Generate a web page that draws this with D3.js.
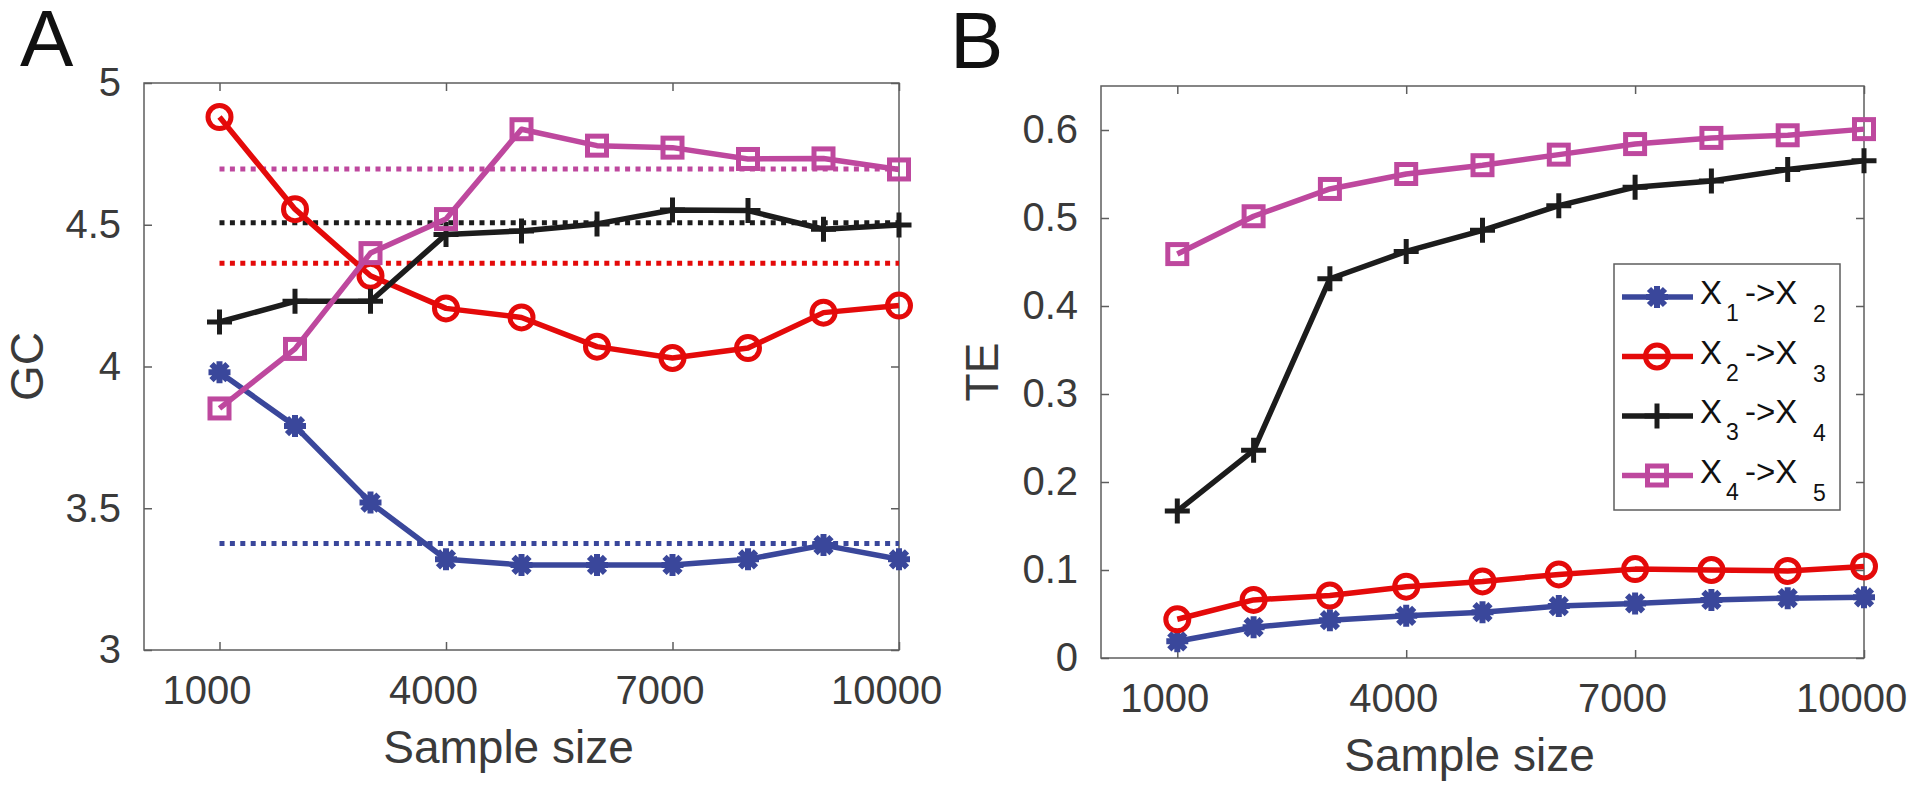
<!DOCTYPE html>
<html>
<head>
<meta charset="utf-8">
<script src="https://cdn.jsdelivr.net/npm/d3@7/dist/d3.min.js"></script>
<style>
  html, body { margin: 0; padding: 0; background: #fff; }
  svg { display: block; font-family: "Liberation Sans", Arial, Helvetica, sans-serif; }
</style>
</head>
<body>
<svg id="chart" width="1920" height="789"></svg>
<script>
// ---------- data ----------
const sampleSizes = [1000, 2000, 3000, 4000, 5000, 6000, 7000, 8000, 9000, 10000];
const xTicks = [1000, 4000, 7000, 10000];

const seriesNames = ["X1->X2", "X2->X3", "X3->X4", "X4->X5"];
const seriesSubs = [["1", "2"], ["2", "3"], ["3", "4"], ["4", "5"]];
const seriesColors = ["#3a479b", "#e40a0a", "#1c1c1c", "#be489e"];
const seriesMarkers = ["asterisk", "circle", "plus", "square"];

// Panel A: GC
const gcX1X2 = [3.98, 3.79, 3.52, 3.32, 3.30, 3.30, 3.30, 3.32, 3.37, 3.32];
const gcX2X3 = [4.88, 4.555, 4.32, 4.205, 4.173, 4.07, 4.03, 4.065, 4.19, 4.215];
const gcX3X4 = [4.157, 4.23, 4.23, 4.466, 4.478, 4.503, 4.552, 4.55, 4.484, 4.499];
const gcX4X5 = [3.852, 4.062, 4.40, 4.52, 4.837, 4.779, 4.772, 4.732, 4.734, 4.695];
const gcTrueValues = [3.376, 4.364, 4.507, 4.697];
const gcTicks = [3, 3.5, 4, 4.5, 5];

// Panel B: TE
const teX1X2 = [0.019, 0.035, 0.043, 0.048, 0.052, 0.059, 0.062, 0.066, 0.068, 0.069];
const teX2X3 = [0.044, 0.066, 0.071, 0.081, 0.087, 0.095, 0.101, 0.100, 0.099, 0.104];
const teX3X4 = [0.167, 0.236, 0.431, 0.462, 0.486, 0.514, 0.535, 0.542, 0.555, 0.565];
const teX4X5 = [0.459, 0.502, 0.533, 0.550, 0.560, 0.572, 0.584, 0.591, 0.594, 0.601];
const teTicks = [0, 0.1, 0.2, 0.3, 0.4, 0.5, 0.6];

// ---------- drawing ----------
const svg = d3.select("#chart");
const AXIS_COLOR = "#5e5e5e";
const TEXT_COLOR = "#3a3a3a";
const LINE_W = 5.5;

function markerPath(type) {
  if (type === "asterisk") {
    const s = 11, d = 8;
    return `M${-s},0L${s},0M0,${-s}L0,${s}M${-d},${-d}L${d},${d}M${-d},${d}L${d},${-d}`;
  }
  if (type === "plus") {
    const s = 12.5;
    return `M${-s},0L${s},0M0,${-s}L0,${s}`;
  }
  return null;
}

function drawMarker(g, type, color, x, y) {
  if (type === "circle") {
    g.append("circle").attr("cx", x).attr("cy", y).attr("r", 11.5)
      .attr("fill", "none").attr("stroke", color).attr("stroke-width", 5);
  } else if (type === "square") {
    g.append("rect").attr("x", x - 9.5).attr("y", y - 9.5).attr("width", 19).attr("height", 19)
      .attr("fill", "none").attr("stroke", color).attr("stroke-width", 5);
  } else {
    g.append("path").attr("transform", `translate(${x},${y})`).attr("d", markerPath(type))
      .attr("fill", "none").attr("stroke", color)
      .attr("stroke-width", type === "plus" ? 5 : 6);
  }
}

function drawPanel(cfg) {
  const { left, top, right, bottom } = cfg;
  const x = d3.scaleLinear().domain([0, 10000]).range([left, right]);
  const y = d3.scaleLinear().domain(cfg.yDomain).range([bottom, top]);
  const g = svg.append("g");

  const bottomAxis = d3.axisBottom(x).tickValues(xTicks).tickSizeInner(-8).tickSizeOuter(0)
    .tickPadding(26).tickFormat(d3.format("d"));
  const topAxis = d3.axisTop(x).tickValues(xTicks).tickSizeInner(-8).tickSizeOuter(0).tickFormat("");
  const leftAxis = d3.axisLeft(y).tickValues(cfg.yTicks).tickSizeInner(-8).tickSizeOuter(0)
    .tickPadding(23).tickFormat(d => String(d));
  const rightAxis = d3.axisRight(y).tickValues(cfg.yTicks).tickSizeInner(-8).tickSizeOuter(0).tickFormat("");

  const axes = [
    g.append("g").attr("transform", `translate(0,${bottom})`).call(bottomAxis),
    g.append("g").attr("transform", `translate(0,${top})`).call(topAxis),
    g.append("g").attr("transform", `translate(${left},0)`).call(leftAxis),
    g.append("g").attr("transform", `translate(${right},0)`).call(rightAxis)
  ];
  axes.forEach(a => {
    a.select(".domain").remove();
    a.selectAll(".tick line").attr("stroke", AXIS_COLOR).attr("stroke-width", 1.5);
    a.selectAll("text").attr("fill", TEXT_COLOR).attr("font-size", 40)
      .attr("font-family", "'Liberation Sans', Arial, sans-serif");
  });
  axes[0].selectAll("text").attr("dx", -13);

  g.append("rect").attr("x", left).attr("y", top).attr("width", right - left).attr("height", bottom - top)
    .attr("fill", "none").attr("stroke", AXIS_COLOR).attr("stroke-width", 1.5);

  g.append("text").attr("x", (left + right) / 2 - 13).attr("y", bottom + 113)
    .attr("text-anchor", "middle").attr("font-size", 46).attr("fill", TEXT_COLOR).text("Sample size");
  g.append("text").attr("transform", `translate(${cfg.ylabelX},${(top + bottom) / 2}) rotate(-90)`)
    .attr("text-anchor", "middle").attr("font-size", 46).attr("fill", TEXT_COLOR).text(cfg.ylabel);

  g.append("text").attr("x", cfg.letterX).attr("y", cfg.letterY)
    .attr("font-size", 80).attr("fill", "#111").text(cfg.letter);

  if (cfg.refs) {
    cfg.refs.forEach((v, i) => {
      g.append("line").attr("x1", x(sampleSizes[0])).attr("x2", x(sampleSizes[sampleSizes.length - 1]))
        .attr("y1", y(v)).attr("y2", y(v))
        .attr("stroke", seriesColors[i]).attr("stroke-width", 5).attr("stroke-dasharray", "5 5.4");
    });
  }

  const line = d3.line().x((d, i) => x(sampleSizes[i])).y(d => y(d));
  cfg.series.forEach((vals, si) => {
    const sg = g.append("g");
    sg.append("path").datum(vals).attr("d", line).attr("fill", "none")
      .attr("stroke", seriesColors[si]).attr("stroke-width", LINE_W).attr("stroke-linejoin", "round");
    vals.forEach((v, i) => drawMarker(sg, seriesMarkers[si], seriesColors[si], x(sampleSizes[i]), y(v)));
  });
  return { x, y };
}

drawPanel({
  left: 144, top: 83, right: 899, bottom: 650,
  yDomain: [3, 5], yTicks: gcTicks,
  series: [gcX1X2, gcX2X3, gcX3X4, gcX4X5],
  refs: gcTrueValues,
  ylabel: "GC", ylabelX: 43,
  letter: "A", letterX: 20, letterY: 66
});

drawPanel({
  left: 1101, top: 86, right: 1864, bottom: 658,
  yDomain: [0, 0.65], yTicks: teTicks,
  series: [teX1X2, teX2X3, teX3X4, teX4X5],
  refs: null,
  ylabel: "TE", ylabelX: 998,
  letter: "B", letterX: 950, letterY: 68
});

// legend
const lg = svg.append("g");
const legLeft = 1614, legTop = 264, legW = 226, legH = 246;
lg.append("rect").attr("x", legLeft).attr("y", legTop).attr("width", legW).attr("height", legH)
  .attr("fill", "#fff").attr("stroke", AXIS_COLOR).attr("stroke-width", 1.5);
seriesNames.forEach((name, i) => {
  const cy = legTop + 33 + i * 59.5;
  lg.append("line").attr("x1", legLeft + 8).attr("x2", legLeft + 79).attr("y1", cy).attr("y2", cy)
    .attr("stroke", seriesColors[i]).attr("stroke-width", LINE_W);
  drawMarker(lg, seriesMarkers[i], seriesColors[i], legLeft + 43, cy);
  const tx = legLeft + 86, base = cy + 7;
  const t = (s, dx, dy, size) => lg.append("text").attr("x", tx + dx).attr("y", base + dy)
    .attr("font-size", size).attr("fill", "#111").text(s);
  t("X", 0, 0, 33);
  t(seriesSubs[i][0], 26, 17, 23);
  t("->X", 45, 0, 33);
  t(seriesSubs[i][1], 113, 18, 23);
});
</script>
</body>
</html>
